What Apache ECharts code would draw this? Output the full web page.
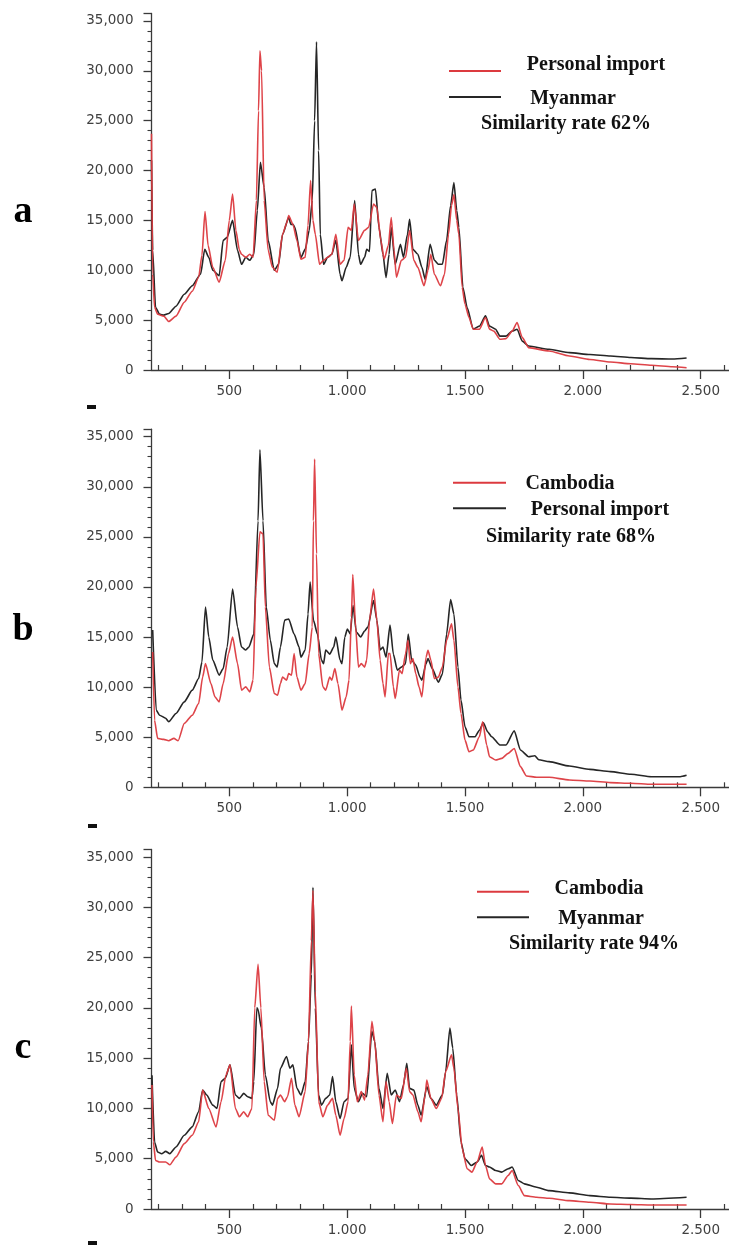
<!DOCTYPE html>
<html>
<head>
<meta charset="utf-8">
<script src="https://cdn.jsdelivr.net/npm/echarts@6/dist/echarts.min.js"></script>
<style>
  html, body { margin: 0; padding: 0; background: #ffffff; }
  #chart { width: 729px; height: 1246px; }
</style>
</head>
<body>
<div id="chart"></div>
<script>
// Raman spectra, intensity vs. Raman shift (cm-1), three pairwise comparisons.

// Panel a: Personal import (red) vs Myanmar (black)
const aPersonalImport = [
  [170,23700],[175,9600],[183,6300],[196,5600],[222,5400],[243,4860],[274,5400],[309,6800],[343,7900],
  [370,9300],[384,11500],[397,15900],[410,12500],[430,10300],[457,8800],[483,11000],[500,15000],[514,17650],
  [528,14000],[543,12000],[552,11600],[570,11300],[587,11600],[601,11300],[615,17000],[624,26000],[630,32000],
  [637,30000],[648,17000],[665,12000],[683,10300],[703,9800],[726,13600],[743,14700],[752,15500],[770,14600],
  [787,13000],[804,11100],[822,11300],[834,14500],[845,19000],[855,15000],[865,13600],[883,10600],[900,11000],
  [917,11300],[935,11600],[952,13600],[970,10600],[987,11000],[1004,14300],[1018,14000],[1030,16650],[1048,13000],
  [1074,14000],[1091,14300],[1112,16650],[1126,16300],[1143,13000],[1157,11100],[1175,12500],[1187,15300],
  [1199,12000],[1209,9300],[1230,11000],[1248,11300],[1265,14000],[1283,11000],[1300,10300],[1326,8450],
  [1343,10000],[1355,11600],[1370,9600],[1396,8450],[1413,9600],[1430,13600],[1443,16500],[1453,17600],
  [1465,15000],[1474,13600],[1488,8300],[1500,6600],[1517,5260],[1535,4090],[1561,4090],[1587,5260],[1604,4100],
  [1622,3900],[1648,3080],[1674,3150],[1700,3900],[1721,4750],[1743,3250],[1770,2240],[1857,1900],[1943,1400],
  [2030,1050],[2117,800],[2204,620],[2291,470],[2380,330],[2440,230]
];
const aMyanmar = [
  [170,21000],[175,12000],[187,6300],[204,5600],[222,5500],[243,5660],[274,6400],[309,7600],[343,8450],
  [378,9600],[396,12100],[413,11300],[430,10000],[457,9450],[474,13000],[491,13300],[514,15000],[535,12000],
  [552,10600],[570,11300],[587,11000],[604,11600],[619,16000],[632,20840],[648,18300],[665,13000],[691,10000],
  [709,10600],[726,13600],[752,15300],[761,14600],[770,14600],[778,14300],[804,11300],[822,12100],[839,14000],
  [852,17000],[862,25000],[870,32900],[879,22000],[886,13600],[900,10600],[917,11300],[935,11600],[952,13000],
  [970,9600],[978,8950],[996,10300],[1013,11300],[1032,17000],[1048,11600],[1057,10600],[1074,11300],
  [1083,12100],[1095,11900],[1105,18000],[1120,18150],[1135,14300],[1152,11600],[1165,9280],[1178,11600],
  [1187,14300],[1204,10600],[1226,12600],[1239,11300],[1256,13600],[1265,15100],[1279,12100],[1300,11600],
  [1317,10300],[1331,9100],[1352,12600],[1370,11000],[1387,10600],[1404,10600],[1422,13000],[1439,16500],
  [1453,18800],[1465,16000],[1474,14300],[1491,8300],[1509,6260],[1535,4090],[1561,4400],[1587,5430],
  [1604,4400],[1630,4090],[1648,3400],[1674,3400],[1700,3900],[1721,4090],[1743,2900],[1770,2400],[1857,2080],
  [1943,1740],[2030,1550],[2117,1400],[2204,1250],[2291,1140],[2380,1100],[2440,1200]
];

// Panel b: Cambodia (red) vs Personal import (black)
const bCambodia = [
  [175,13500],[183,6700],[196,4880],[222,4780],[243,4650],[265,4880],[283,4650],[309,6370],[343,7200],
  [370,8370],[387,11000],[399,12350],[422,10360],[439,9030],[457,8530],[474,10360],[497,13350],[514,15000],
  [535,12350],[552,9700],[570,10030],[587,9530],[601,10700],[613,20000],[630,25500],[643,25300],[653,18000],
  [670,12000],[691,9360],[705,9200],[717,10360],[726,11000],[743,10700],[752,11350],[764,11200],[775,13350],
  [787,11000],[804,9700],[822,10360],[839,13350],[852,16000],[857,26600],[862,32770],[870,23300],[879,13350],
  [897,10030],[909,9700],[926,11000],[935,10700],[948,11850],[961,10360],[978,7700],[996,9030],[1008,10700],
  [1018,17000],[1024,21250],[1036,16000],[1048,12000],[1060,12350],[1074,12000],[1083,12700],[1095,16700],
  [1112,19800],[1126,16700],[1140,12700],[1152,10360],[1161,9030],[1175,13350],[1182,13350],[1196,10030],
  [1204,8860],[1222,11700],[1233,11350],[1248,13350],[1258,14670],[1268,12350],[1279,12850],[1291,11350],
  [1305,10030],[1317,9030],[1335,13000],[1343,13680],[1355,12700],[1370,10850],[1387,11000],[1404,12000],
  [1422,14670],[1443,16330],[1453,14670],[1470,10030],[1483,7370],[1500,4710],[1517,3550],[1535,3720],
  [1561,5050],[1575,6540],[1592,4220],[1604,3050],[1630,2720],[1656,2890],[1683,3390],[1709,3880],[1735,2060],
  [1761,1130],[1804,1000],[1857,1000],[1943,730],[2030,630],[2117,465],[2204,400],[2291,300],[2440,300]
];
const bPersonalImport = [
  [175,15700],[190,7700],[204,7200],[230,6900],[243,6540],[274,7370],[309,8530],[343,9700],[370,10860],
  [384,12500],[399,18000],[413,15000],[430,12700],[457,11200],[474,11850],[491,14000],[514,19800],[535,16000],
  [552,14000],[570,13700],[583,14000],[604,15300],[622,26600],[630,33700],[643,26600],[657,18000],[674,14700],
  [691,12350],[703,12000],[717,14000],[735,16700],[752,16800],[775,15300],[796,14000],[804,13000],[822,13700],
  [834,17300],[843,20500],[857,16700],[874,15300],[891,12700],[900,12350],[909,13700],[926,13300],[943,14000],
  [952,15000],[970,12700],[978,12350],[990,15000],[1001,15800],[1013,15300],[1025,18150],[1039,15500],
  [1057,15000],[1074,15600],[1088,16000],[1112,18650],[1126,16700],[1140,13700],[1152,14000],[1165,13000],
  [1182,16200],[1196,13300],[1213,11700],[1230,12000],[1248,12350],[1259,15300],[1274,12700],[1291,12200],
  [1309,11000],[1317,10700],[1335,12350],[1343,12850],[1361,11850],[1387,10500],[1404,11300],[1422,15300],
  [1439,18750],[1453,17300],[1470,12000],[1483,8700],[1500,6040],[1517,5050],[1543,5050],[1561,5700],
  [1578,6440],[1596,5540],[1613,5050],[1648,4220],[1674,4220],[1709,5640],[1735,3720],[1770,3050],[1796,3150],
  [1813,2750],[1857,2560],[1943,2120],[2030,1790],[2117,1560],[2204,1300],[2291,1060],[2413,1060],[2440,1200]
];

// Panel c: Cambodia (red) vs Myanmar (black)
const cCambodia = [
  [172,12330],[178,6670],[187,4830],[204,4670],[230,4670],[248,4400],[274,5170],[309,6500],[343,7330],
  [370,8670],[387,11830],[413,10000],[444,8170],[465,10670],[486,13330],[503,14330],[526,10000],[543,9170],
  [561,9670],[578,9170],[596,10000],[608,20000],[622,24330],[634,20000],[648,12670],[665,9330],[691,8830],
  [705,11000],[717,11330],[735,10670],[747,11170],[764,13000],[778,10330],[796,9170],[822,11670],[836,16670],
  [848,26670],[855,31670],[865,21670],[879,10670],[897,9170],[917,10330],[938,11000],[952,9330],[970,7330],
  [987,9000],[1004,10670],[1013,16670],[1018,20170],[1030,13330],[1043,10670],[1060,11670],[1074,10830],
  [1088,13330],[1105,18670],[1117,16670],[1135,11330],[1152,8670],[1165,12670],[1178,10670],[1192,8500],
  [1209,11330],[1230,11000],[1251,14000],[1265,11670],[1279,11330],[1300,9670],[1314,8670],[1331,11330],
  [1338,12830],[1355,11000],[1378,10000],[1401,11000],[1418,13670],[1443,15330],[1453,14000],[1470,10000],
  [1488,6000],[1509,4000],[1529,3670],[1552,4670],[1573,6170],[1587,4330],[1604,3000],[1630,2500],[1656,2500],
  [1683,3330],[1700,3830],[1726,2330],[1752,1330],[1804,1170],[1857,1070],[1943,830],[2030,670],[2117,500],
  [2204,450],[2291,400],[2440,400]
];
const cMyanmar = [
  [172,13300],[183,6670],[196,5670],[213,5500],[230,5730],[248,5500],[274,6170],[309,7330],[343,8170],
  [370,9670],[387,11830],[404,11330],[430,10330],[448,10000],[465,12670],[483,13000],[503,14330],[526,11330],
  [543,11000],[561,11500],[578,11170],[596,11000],[604,12670],[617,20000],[622,19830],[636,18000],[653,13330],
  [674,10670],[683,10330],[705,12000],[717,14000],[743,15170],[757,14000],[770,14330],[787,12000],[804,11330],
  [822,12670],[836,16670],[848,23330],[855,32000],[865,20000],[879,11330],[891,10330],[909,11000],[926,11330],
  [938,13170],[952,10670],[970,9000],[987,10670],[1004,11000],[1018,16330],[1030,12000],[1048,10670],
  [1065,11500],[1083,11170],[1105,17670],[1117,16670],[1135,12000],[1152,10000],[1170,13500],[1187,11330],
  [1204,11830],[1222,10670],[1239,12330],[1253,14500],[1265,12000],[1283,11830],[1300,10330],[1314,9330],
  [1338,12170],[1355,11000],[1378,10330],[1404,11330],[1418,13670],[1436,18000],[1448,16000],[1465,11330],
  [1483,6670],[1500,5000],[1526,4330],[1552,4670],[1570,5330],[1587,4330],[1604,4170],[1630,3830],[1656,3670],
  [1683,4000],[1700,4170],[1726,2830],[1752,2500],[1804,2170],[1857,1830],[1943,1600],[2030,1330],[2117,1170],
  [2204,1080],[2291,1000],[2440,1170]
];

// Axis ticks
const xLabelValues = [500, 1000, 1500, 2000, 2500];
const xLabelTexts = ['500', '1.000', '1.500', '2.000', '2.500'];
const xMinorValues = [200, 300, 400, 600, 700, 800, 900, 1100, 1200, 1300, 1400, 1600, 1700, 1800, 1900,
                      2100, 2200, 2300, 2400, 2600];

// Panel captions
const panelLetters = ['a', 'b', 'c'];
const seriesNames = [
  ['Personal import', 'Myanmar'],
  ['Cambodia', 'Personal import'],
  ['Cambodia', 'Myanmar']
];
const similarityRates = [62, 68, 94];
const panelData = [
  [aPersonalImport, aMyanmar],
  [bCambodia, bPersonalImport],
  [cCambodia, cMyanmar]
];

// Styling
const RED = '#dc3a3f';
const BLACK = '#262626';
const AXIS = '#3a3a3a';
const LABEL = '#404040';
const SERIF = '"Liberation Serif", "Times New Roman", serif';
const SANS = '"DejaVu Sans", Verdana, sans-serif';

// Layout of the three stacked panels
const layout = [
  { top: 13.5, height: 356.5, letterY: 212, dash: [87, 405],
    lineX: [449, 501], lineY: [71, 97], textPos: [[596, 65], [573, 98.5], [566, 123.5]] },
  { top: 429.2, height: 358.1, letterY: 630, dash: [88, 824],
    lineX: [453, 506], lineY: [482.7, 508.3], textPos: [[570, 483.5], [600, 510], [571, 537]] },
  { top: 849.5, height: 359.5, letterY: 1048, dash: [88, 1241],
    lineX: [477, 529], lineY: [891.7, 917.3], textPos: [[599, 888.5], [601, 918.5], [594, 943.5]] }
];

const grids = [], xAxes = [], yAxes = [], series = [], graphics = [];

layout.forEach((p, i) => {
  grids.push({ left: 151.5, width: 578.2, top: p.top, height: p.height, containLabel: false });

  // main x axis: line, long ticks and labels every 500
  xAxes.push({
    type: 'value', gridIndex: i, min: 170, max: 2620,
    axisLine: { show: true, onZero: false, lineStyle: { color: AXIS, width: 1.3 } },
    axisTick: { show: true, length: 9, customValues: xLabelValues, lineStyle: { color: AXIS, width: 1.3 } },
    axisLabel: {
      show: true, customValues: xLabelValues, margin: 14,
      color: LABEL, fontFamily: SANS, fontSize: 13.5,
      formatter: v => xLabelTexts[xLabelValues.indexOf(v)] || ''
    },
    splitLine: { show: false }
  });
  // overlay x axis: short ticks every 100
  xAxes.push({
    type: 'value', gridIndex: i, min: 170, max: 2620,
    axisLine: { show: false },
    axisTick: { show: true, length: 5, customValues: xMinorValues, lineStyle: { color: AXIS, width: 1.2 } },
    axisLabel: { show: false },
    splitLine: { show: false }
  });

  yAxes.push({
    type: 'value', gridIndex: i, min: 0, max: 35750, interval: 5000,
    axisLine: { show: true, onZero: false, lineStyle: { color: AXIS, width: 1.3 } },
    axisTick: { show: true, length: 8, lineStyle: { color: AXIS, width: 1.3 } },
    minorTick: { show: true, splitNumber: 5, length: 4, lineStyle: { color: AXIS, width: 1.1 } },
    axisLabel: {
      margin: 18, color: LABEL, fontFamily: SANS, fontSize: 13.5,
      formatter: v => v > 35000 ? '' : v.toLocaleString('en-US')
    },
    splitLine: { show: false },
    minorSplitLine: { show: false }
  });

  const [redData, blackData] = panelData[i];
  const [redName, blackName] = seriesNames[i];
  series.push({
    name: blackName, type: 'line', xAxisIndex: i * 2, yAxisIndex: i,
    data: blackData, showSymbol: false, symbol: 'none',
    smooth: 0.2, smoothMonotone: 'x',
    lineStyle: { color: BLACK, width: 1.6 }, z: 2
  });
  series.push({
    name: redName, type: 'line', xAxisIndex: i * 2, yAxisIndex: i,
    data: redData, showSymbol: false, symbol: 'none',
    smooth: 0.2, smoothMonotone: 'x',
    lineStyle: { color: RED, width: 1.6, opacity: 0.95 }, z: 3
  });

  // panel letter
  graphics.push({
    type: 'text', x: 23, y: p.letterY,
    style: { text: panelLetters[i], font: 'bold 38px ' + SERIF, fill: '#000', align: 'center', verticalAlign: 'middle' }
  });
  // small dark mark left below each panel
  graphics.push({
    type: 'rect', shape: { x: p.dash[0], y: p.dash[1], width: 9, height: 4 },
    style: { fill: '#111' }
  });
  // key: two line samples, names and similarity rate
  graphics.push({
    type: 'line', shape: { x1: p.lineX[0], y1: p.lineY[0], x2: p.lineX[1], y2: p.lineY[0] },
    style: { stroke: RED, lineWidth: 2 }
  });
  graphics.push({
    type: 'line', shape: { x1: p.lineX[0], y1: p.lineY[1], x2: p.lineX[1], y2: p.lineY[1] },
    style: { stroke: BLACK, lineWidth: 2 }
  });
  const keyTexts = [redName, blackName, 'Similarity rate ' + similarityRates[i] + '%'];
  keyTexts.forEach((t, k) => {
    graphics.push({
      type: 'text', x: p.textPos[k][0], y: p.textPos[k][1],
      style: { text: t, font: 'bold 20px ' + SERIF, fill: '#111', align: 'center', verticalAlign: 'middle' }
    });
  });
});

const chart = echarts.init(document.getElementById('chart'), null, { renderer: 'canvas' });
chart.setOption({
  animation: false,
  backgroundColor: '#ffffff',
  grid: grids,
  xAxis: xAxes,
  yAxis: yAxes,
  series: series,
  graphic: graphics
});
</script>
</body>
</html>
